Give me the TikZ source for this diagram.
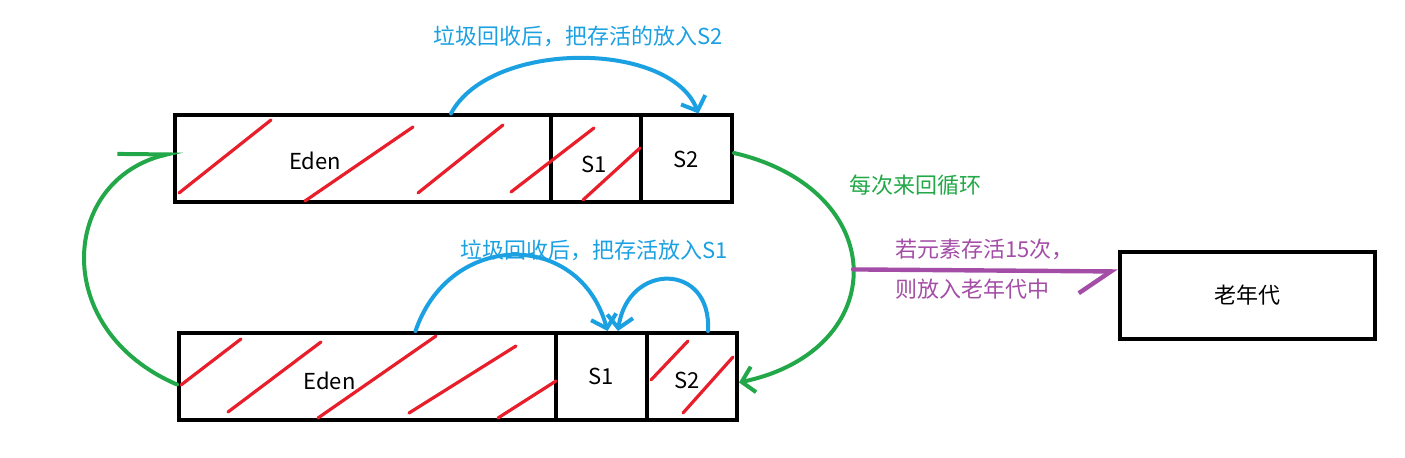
\documentclass[tikz,border=0pt]{standalone}
\usepackage{fontspec}
\setmainfont{Noto Sans CJK SC}
\usetikzlibrary{arrows.meta}
\definecolor{gcblue}{RGB}{27,160,226}
\definecolor{gcgreen}{RGB}{34,168,72}
\definecolor{gcred}{RGB}{232,30,42}
\definecolor{gcpurple}{RGB}{163,77,166}

\begin{document}
\begin{tikzpicture}[x=0.5pt, y=-0.5pt, font=\fontsize{11}{13}\selectfont,
	cell/.style={draw, line width=2pt, inner sep=0pt, minimum height=43.5pt},
	slash/.style={gcred, line width=1.6pt, line cap=round},
	blueto/.style={gcblue, line width=2pt, line cap=round, -{Straight Barb[length=6pt,width=13pt]}},
	greento/.style={gcgreen, line width=2pt, line cap=round, -{Straight Barb[length=6pt,width=13pt]}},
	purpleto/.style={gcpurple, line width=2.2pt, line cap=round, -{Straight Barb[harpoon,swap,length=16pt,width=22pt]}}]
	\useasboundingbox (0,0) rectangle (1405,458);

	\node [cell, minimum width=188pt, label={[xshift=-24pt,yshift=-1pt]center:Eden}] (EdenA) at (363,159) {};
	\node [cell, minimum width=45pt] (SA1) at (596,159) {};
	\node [cell, minimum width=45.5pt] (SA2) at (686.5,159) {S2};
	\node (SA1text) at (594,164) {S1};

	\node [cell, minimum width=188.5pt, label={[xshift=-19pt,yshift=-2pt]center:Eden}] (EdenB) at (367.5,376.5) {};
	\node [cell, minimum width=45.5pt] (SB1) at (601.5,376.5) {S1};
	\node [cell, minimum width=45pt] (SB2) at (692,376.5) {};
	\node (SB2text) at (687,380) {S2};

	\node [cell, minimum width=127.5pt] (Old) at (1247.5,295.5) {老年代};

	\foreach \a/\b/\c/\d in {179/193/271/120, 305/201/413/127, 418/193/503/125, 511/192/594/128, 583/200/640/148,
		181/385/241/339, 228/412/321/342, 318/418/436/336, 409/413/516/346, 498/418/556/381, 651/380/688/341, 683/413/733/357}
		\draw [slash] (\a,\b) -- (\c,\d);

	\node [gcblue, anchor=west] (toS2) at (426,36) {垃圾回收后，把存活的放入S2};
	\node [gcblue, anchor=west] (toS1) at (453,250) {垃圾回收后，把存活放入S1};
	\node [gcgreen, anchor=west] (loop) at (842,185) {每次来回循环};
	\node [gcpurple, anchor=west] (oldA) at (888,249) {若元素存活15次，};
	\node [gcpurple, anchor=west] (oldB) at (888,289) {则放入老年代中};

	\draw [blueto] ([xshift=44pt]EdenA.north) .. controls (490,40) and (670,40) .. ([xshift=6pt]SA2.north);
	\draw [blueto] ([xshift=24pt]EdenB.north) .. controls (450,230) and (580,230) .. ([xshift=3pt]SB1.north);
	\draw [blueto] ([xshift=8pt]SB2.north) .. controls (712,262) and (628,262) .. ([xshift=-13.5pt]SB2.north west);

	\draw [greento] ([yshift=3pt]SA2.east) .. controls (892,190) and (892,350) .. coordinate[pos=0.5] (turn) ([yshift=-3pt]SB2.east);
	\draw [gcgreen, line width=2pt, line cap=round, shorten >=-5pt, -{Straight Barb[harpoon,length=24pt,width=12pt]}]
		([yshift=-4pt]EdenB.west) .. controls (50,330) and (60,180) .. ([yshift=3pt]EdenA.west);

	\draw [purpleto] (turn) -- ([yshift=12pt]Old.west);
\end{tikzpicture}
\end{document}
